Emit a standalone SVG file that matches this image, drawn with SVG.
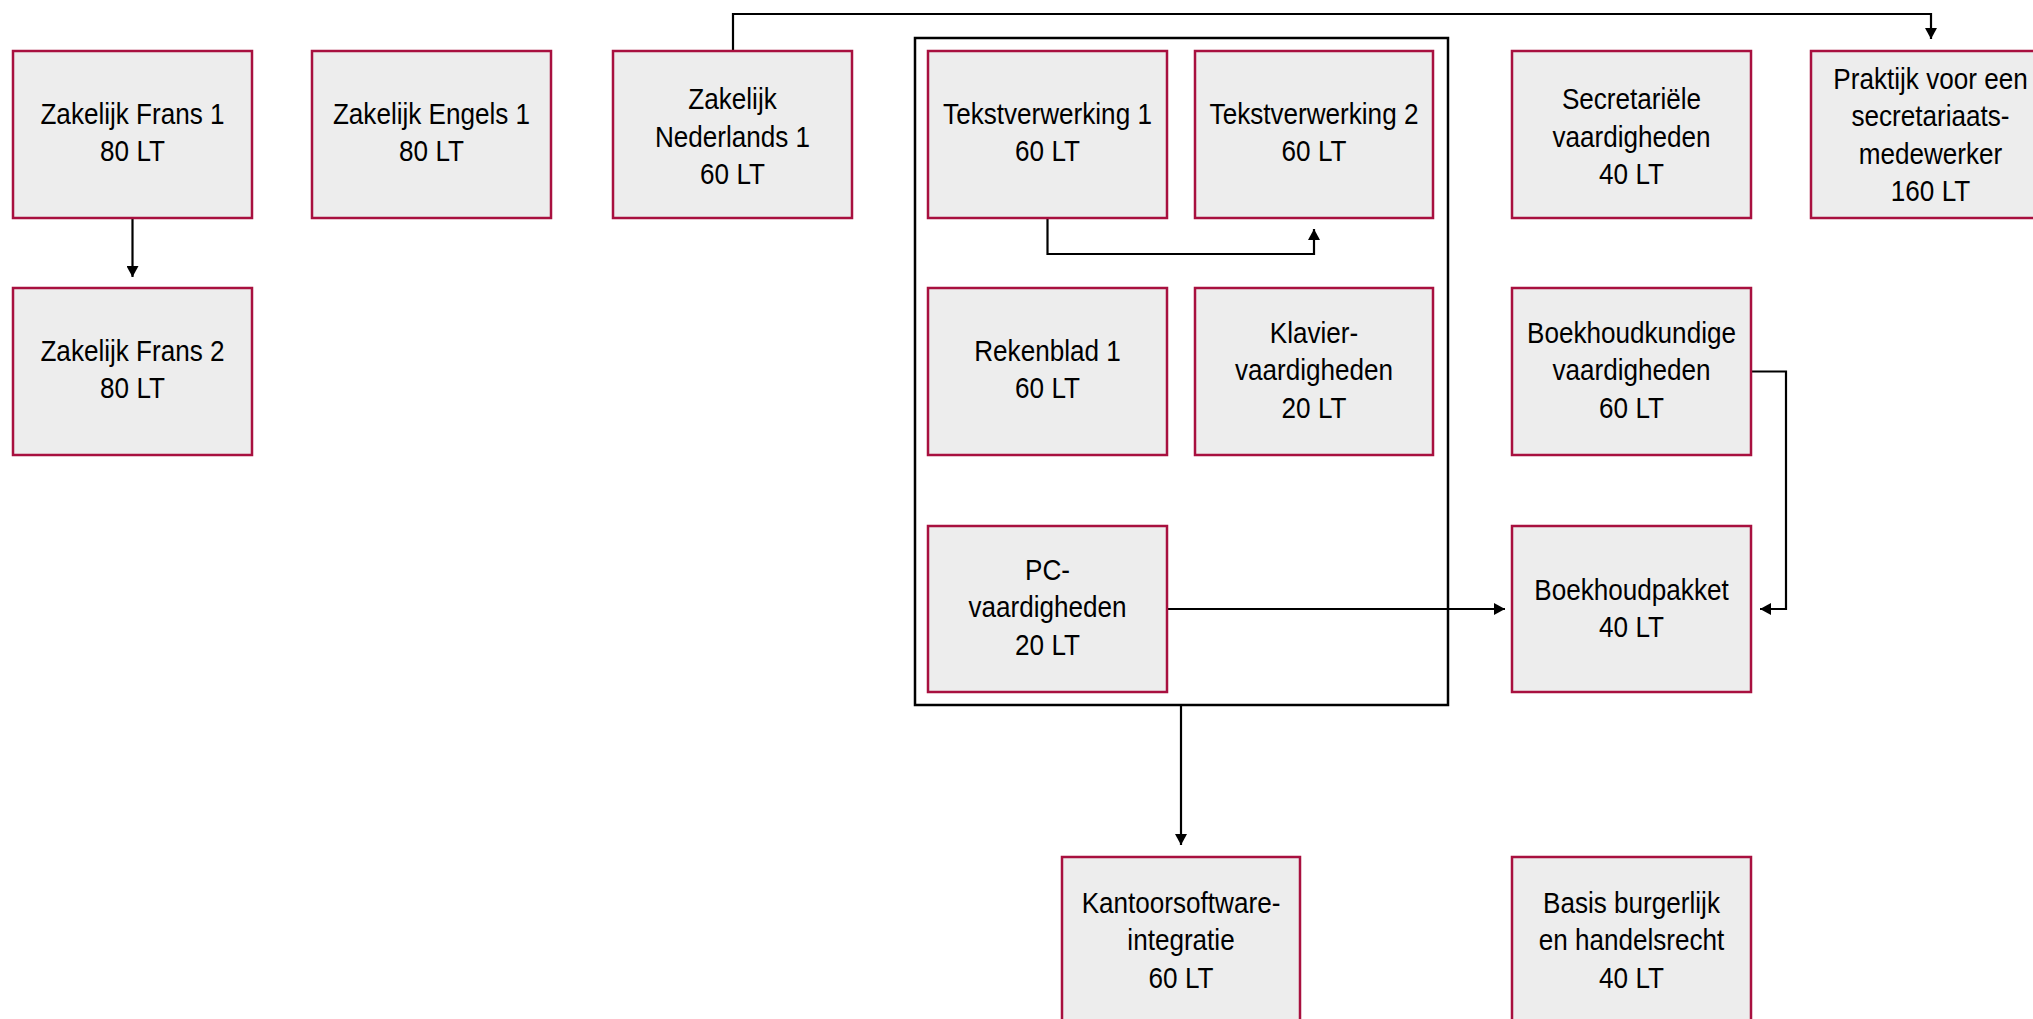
<svg xmlns="http://www.w3.org/2000/svg" width="2033" height="1019" viewBox="0 0 2033 1019">
<style>
.box{fill:#EDEDED;stroke:#A8103F;stroke-width:2.5}
.t{font-family:"Liberation Sans",Arial,sans-serif;font-size:30px;fill:#000;text-anchor:middle}
.c{fill:none;stroke:#000;stroke-width:2.2}
.grp{fill:none;stroke:#000;stroke-width:2.5}
</style>
<defs>
<marker id="ah" viewBox="0 0 11 12" refX="11" refY="6" markerWidth="11" markerHeight="12" markerUnits="userSpaceOnUse" orient="auto">
<path d="M0,0 L11,6 L0,12 z" fill="#000"/>
</marker>
</defs>
<rect width="2033" height="1019" fill="#fff"/>
<g id="container"><rect class="grp" x="915" y="38" width="533" height="667"/></g>
<g id="connectors">
<path class="c" d="M132.5 218 V277" marker-end="url(#ah)"/>
<path class="c" d="M733 51 V14 H1931 V39" marker-end="url(#ah)"/>
<path class="c" d="M1047.5 218 V254 H1314 V229" marker-end="url(#ah)"/>
<path class="c" d="M1167 609 H1505" marker-end="url(#ah)"/>
<path class="c" d="M1751 371.5 H1786 V609 H1760" marker-end="url(#ah)"/>
<path class="c" d="M1181 705 V845" marker-end="url(#ah)"/>
</g>
<g id="frans1"><rect class="box" x="13" y="51" width="239" height="167"/>
<text class="t" transform="translate(132.5 0) scale(0.87 1)"><tspan x="0" y="124">Zakelijk Frans 1</tspan><tspan x="0" y="161.5">80 LT</tspan></text></g>
<g id="engels1"><rect class="box" x="312" y="51" width="239" height="167"/>
<text class="t" transform="translate(431.5 0) scale(0.87 1)"><tspan x="0" y="124">Zakelijk Engels 1</tspan><tspan x="0" y="161.5">80 LT</tspan></text></g>
<g id="nederlands1"><rect class="box" x="613" y="51" width="239" height="167"/>
<text class="t" transform="translate(732.5 0) scale(0.87 1)"><tspan x="0" y="109.5">Zakelijk</tspan><tspan x="0" y="147">Nederlands 1</tspan><tspan x="0" y="184.5">60 LT</tspan></text></g>
<g id="tekst1"><rect class="box" x="928" y="51" width="239" height="167"/>
<text class="t" transform="translate(1047.5 0) scale(0.87 1)"><tspan x="0" y="124">Tekstverwerking 1</tspan><tspan x="0" y="161.5">60 LT</tspan></text></g>
<g id="tekst2"><rect class="box" x="1195" y="51" width="238" height="167"/>
<text class="t" transform="translate(1314 0) scale(0.87 1)"><tspan x="0" y="124">Tekstverwerking 2</tspan><tspan x="0" y="161.5">60 LT</tspan></text></g>
<g id="secretariele"><rect class="box" x="1512" y="51" width="239" height="167"/>
<text class="t" transform="translate(1631.5 0) scale(0.87 1)"><tspan x="0" y="109.5">Secretariële</tspan><tspan x="0" y="147">vaardigheden</tspan><tspan x="0" y="184.5">40 LT</tspan></text></g>
<g id="praktijk"><rect class="box" x="1811" y="51" width="239" height="167"/>
<text class="t" transform="translate(1930.5 0) scale(0.87 1)"><tspan x="0" y="89">Praktijk voor een</tspan><tspan x="0" y="126.5">secretariaats-</tspan><tspan x="0" y="164">medewerker</tspan><tspan x="0" y="201.5">160 LT</tspan></text></g>
<g id="frans2"><rect class="box" x="13" y="288" width="239" height="167"/>
<text class="t" transform="translate(132.5 0) scale(0.87 1)"><tspan x="0" y="361">Zakelijk Frans 2</tspan><tspan x="0" y="398.5">80 LT</tspan></text></g>
<g id="rekenblad1"><rect class="box" x="928" y="288" width="239" height="167"/>
<text class="t" transform="translate(1047.5 0) scale(0.87 1)"><tspan x="0" y="361">Rekenblad 1</tspan><tspan x="0" y="398.5">60 LT</tspan></text></g>
<g id="klavier"><rect class="box" x="1195" y="288" width="238" height="167"/>
<text class="t" transform="translate(1314 0) scale(0.87 1)"><tspan x="0" y="343">Klavier-</tspan><tspan x="0" y="380.5">vaardigheden</tspan><tspan x="0" y="418">20 LT</tspan></text></g>
<g id="boekhoudkundige"><rect class="box" x="1512" y="288" width="239" height="167"/>
<text class="t" transform="translate(1631.5 0) scale(0.87 1)"><tspan x="0" y="343">Boekhoudkundige</tspan><tspan x="0" y="380.5">vaardigheden</tspan><tspan x="0" y="418">60 LT</tspan></text></g>
<g id="pc"><rect class="box" x="928" y="526" width="239" height="166"/>
<text class="t" transform="translate(1047.5 0) scale(0.87 1)"><tspan x="0" y="580">PC-</tspan><tspan x="0" y="617.5">vaardigheden</tspan><tspan x="0" y="655">20 LT</tspan></text></g>
<g id="boekhoudpakket"><rect class="box" x="1512" y="526" width="239" height="166"/>
<text class="t" transform="translate(1631.5 0) scale(0.87 1)"><tspan x="0" y="600">Boekhoudpakket</tspan><tspan x="0" y="637.5">40 LT</tspan></text></g>
<g id="kantoorsoftware"><rect class="box" x="1062" y="857" width="238" height="167"/>
<text class="t" transform="translate(1181 0) scale(0.87 1)"><tspan x="0" y="913">Kantoorsoftware-</tspan><tspan x="0" y="950.5">integratie</tspan><tspan x="0" y="988">60 LT</tspan></text></g>
<g id="basis"><rect class="box" x="1512" y="857" width="239" height="167"/>
<text class="t" transform="translate(1631.5 0) scale(0.87 1)"><tspan x="0" y="913">Basis burgerlijk</tspan><tspan x="0" y="950.5">en handelsrecht</tspan><tspan x="0" y="988">40 LT</tspan></text></g>
</svg>
